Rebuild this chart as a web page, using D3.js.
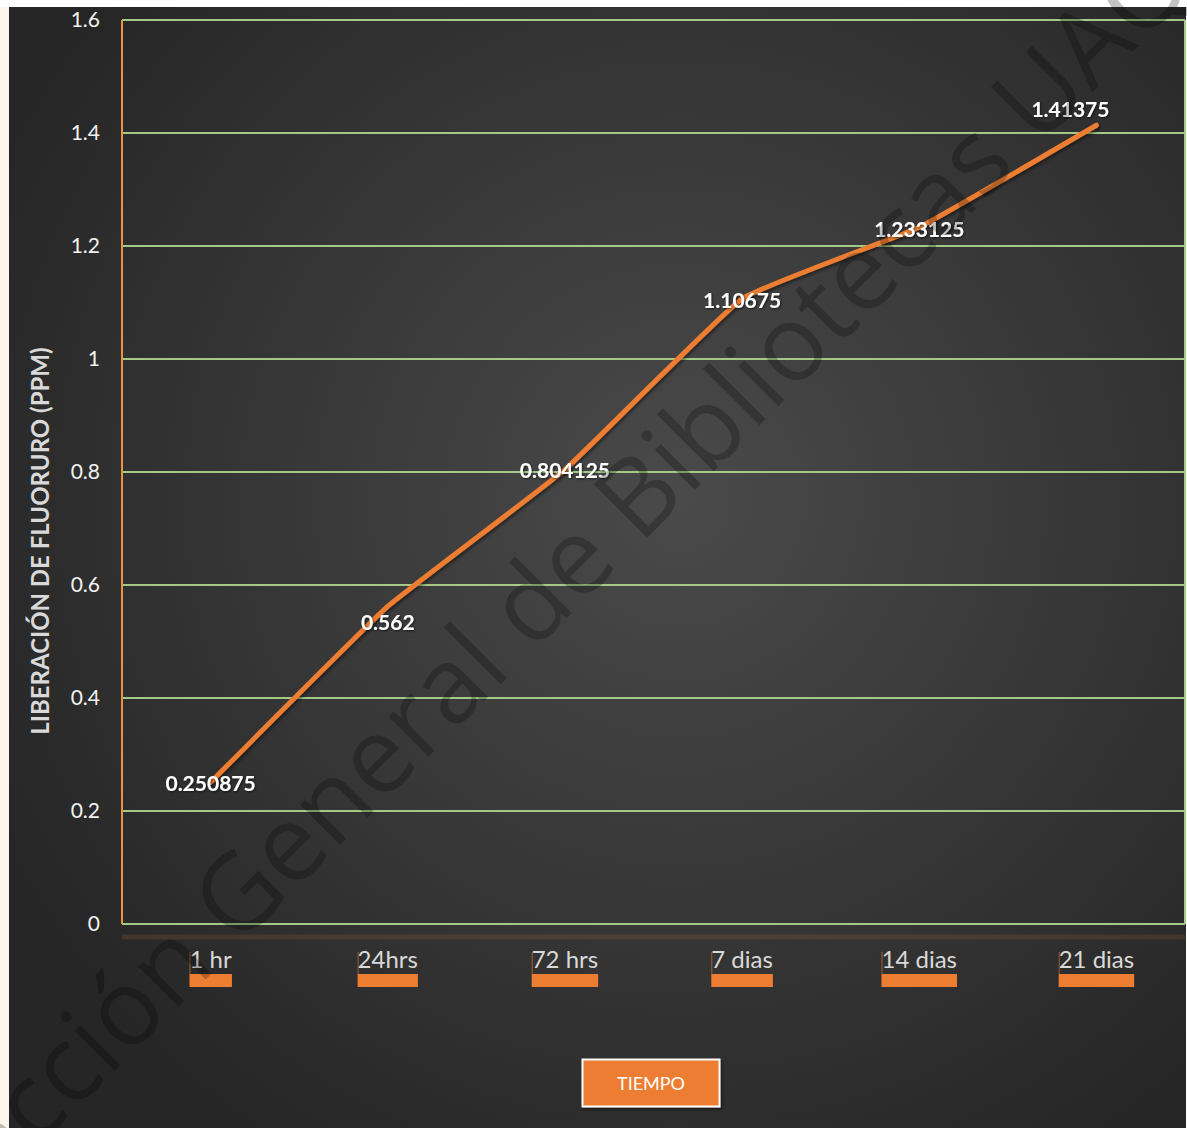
<!DOCTYPE html>
<html>
<head>
<meta charset="utf-8">
<script src="https://cdn.jsdelivr.net/npm/d3@7"></script>
<style>
  body { margin: 0; background: #ffffff; }
  svg { display: block; }
</style>
</head>
<body>
<svg id="chart" width="1187" height="1128"></svg>
<script>
// Fluoride release over time
const categories = ["1 hr", "24hrs", "72 hrs", "7 dias", "14 dias", "21 dias"];
const liberacion = [0.250875, 0.562, 0.804125, 1.10675, 1.233125, 1.41375];
const yTicks = [0, 0.2, 0.4, 0.6, 0.8, 1, 1.2, 1.4, 1.6];
const yTickLabels = ["0", "0.2", "0.4", "0.6", "0.8", "1", "1.2", "1.4", "1.6"];
const yTitle = "LIBERACIÓN DE FLUORURO (PPM)";
const xTitle = "TIEMPO";
const watermark = "Dirección General de Bibliotecas UAQ";

const W = 1187, H = 1128;
const plot = { left: 122, right: 1185, top: 20, bottom: 924 };
const ORANGE = "#ed7d31";
const GRID = "#a2c985";
const FONT = "Lato, 'Open Sans', sans-serif";

const svg = d3.select("#chart");
const defs = svg.append("defs");

// chart background: dark radial gradient
const rg = defs.append("radialGradient").attr("id", "bg")
  .attr("gradientUnits", "userSpaceOnUse")
  .attr("cx", 680).attr("cy", 500).attr("r", 760);
rg.append("stop").attr("offset", "0%").attr("stop-color", "#4a4a4a");
rg.append("stop").attr("offset", "100%").attr("stop-color", "#262626");

const shadow = defs.append("filter").attr("id", "shadow")
  .attr("x", "-10%").attr("y", "-10%").attr("width", "130%").attr("height", "130%");
shadow.append("feDropShadow").attr("dx", 1.5).attr("dy", 2).attr("stdDeviation", 1.5)
  .attr("flood-color", "#000").attr("flood-opacity", 0.45);

const textShadow = defs.append("filter").attr("id", "textShadow")
  .attr("x", "-10%").attr("y", "-30%").attr("width", "130%").attr("height", "160%");
textShadow.append("feDropShadow").attr("dx", 1).attr("dy", 1).attr("stdDeviation", 1)
  .attr("flood-color", "#000").attr("flood-opacity", 0.6);

// page edges and chart area
svg.append("rect").attr("width", W).attr("height", H).attr("fill", "#ffffff");
svg.append("rect").attr("x", 0).attr("y", 7).attr("width", 9).attr("height", H - 7).attr("fill", "#fcf6ea");
svg.append("rect").attr("x", 9).attr("y", 7).attr("width", W - 10).attr("height", H - 7).attr("fill", "url(#bg)");

// scales
const x = d3.scalePoint().domain(categories).range([plot.left, plot.right]).padding(0.5);
const y = d3.scaleLinear().domain([0, 1.6]).range([plot.bottom, plot.top]);

// horizontal gridlines
svg.append("g")
  .selectAll("line").data(yTicks).join("line")
  .attr("x1", plot.left).attr("x2", plot.right)
  .attr("y1", d => y(d)).attr("y2", d => y(d))
  .attr("stroke", GRID).attr("stroke-width", 2);

// right border of the plot
svg.append("line")
  .attr("x1", plot.right).attr("x2", plot.right)
  .attr("y1", y(1.6)).attr("y2", y(0))
  .attr("stroke", GRID).attr("stroke-width", 2);

// left axis line
svg.append("line")
  .attr("x1", plot.left).attr("x2", plot.left)
  .attr("y1", y(1.6)).attr("y2", y(0))
  .attr("stroke", "#e5963e").attr("stroke-width", 2);

// category axis band
svg.append("line")
  .attr("x1", plot.left).attr("x2", plot.right)
  .attr("y1", 937).attr("y2", 937)
  .attr("stroke", ORANGE).attr("stroke-opacity", 0.14).attr("stroke-width", 5);

// y axis tick labels
const yAxis = d3.axisLeft(y).tickValues(yTicks)
  .tickFormat((d, i) => yTickLabels[i]).tickSize(0).tickPadding(22);
const gy = svg.append("g").attr("transform", `translate(${plot.left},0)`).call(yAxis);
gy.select(".domain").remove();
gy.selectAll("text").attr("fill", "#f2f2f2").attr("font-family", FONT).attr("font-size", 21);

// y axis title
svg.append("text")
  .attr("transform", "translate(49,541) rotate(-90)")
  .attr("text-anchor", "middle")
  .attr("font-family", FONT).attr("font-weight", 700).attr("font-size", 24)
  .attr("fill", "#d9d9d9")
  .text(yTitle);

// category labels with orange underline bars
const xl = svg.append("g");
categories.forEach(c => {
  const t = xl.append("text")
    .attr("x", x(c)).attr("y", 968)
    .attr("text-anchor", "middle")
    .attr("font-family", FONT).attr("font-size", 24)
    .attr("fill", "#d9d9d9")
    .text(c);
  const b = t.node().getBBox();
  xl.append("rect")
    .attr("x", b.x).attr("y", 974).attr("width", b.width).attr("height", 13)
    .attr("fill", ORANGE);
  xl.append("line")
    .attr("x1", b.x + 0.5).attr("x2", b.x + 0.5).attr("y1", 952).attr("y2", 974)
    .attr("stroke", ORANGE).attr("stroke-opacity", 0.6).attr("stroke-width", 1);
});

// series line
const pts = categories.map((c, i) => [x(c), y(liberacion[i])]);
svg.append("path")
  .attr("d", d3.line().curve(d3.curveCardinal.tension(0.7))(pts))
  .attr("fill", "none").attr("stroke", ORANGE).attr("stroke-width", 5)
  .attr("stroke-linecap", "round").attr("stroke-linejoin", "round")
  .attr("filter", "url(#shadow)");

// value labels (centred on the point, with a few nudged clear of the line)
const nudge = [[0, 0], [0, 15], [0, 0], [0, 1], [0, 1], [-26, -17]];
svg.append("g").selectAll("text").data(liberacion).join("text")
  .attr("x", (d, i) => x(categories[i]) + nudge[i][0])
  .attr("y", (d, i) => y(d) + nudge[i][1])
  .attr("text-anchor", "middle").attr("dominant-baseline", "central")
  .attr("font-family", FONT).attr("font-weight", 700).attr("font-size", 21)
  .attr("fill", "#ffffff").attr("filter", "url(#textShadow)")
  .text(d => d);

// axis title box
const boxW = 137, boxH = 47, boxCx = 651, boxCy = 1083;
svg.append("rect")
  .attr("x", boxCx - boxW / 2).attr("y", boxCy - boxH / 2)
  .attr("width", boxW).attr("height", boxH)
  .attr("fill", ORANGE).attr("stroke", "#ffffff").attr("stroke-width", 2)
  .attr("filter", "url(#shadow)");
svg.append("text")
  .attr("x", boxCx).attr("y", boxCy)
  .attr("text-anchor", "middle").attr("dominant-baseline", "central")
  .attr("font-family", FONT).attr("font-size", 18).attr("fill", "#ffffff")
  .text(xTitle);

// diagonal watermark
svg.append("text")
  .attr("transform", "translate(515,612) rotate(-45)")
  .attr("text-anchor", "middle").attr("dominant-baseline", "central")
  .attr("font-family", "'Open Sans', sans-serif").attr("font-size", 106)
  .attr("fill", "#000000").attr("fill-opacity", 0.24)
  .text(watermark);
</script>
</body>
</html>
